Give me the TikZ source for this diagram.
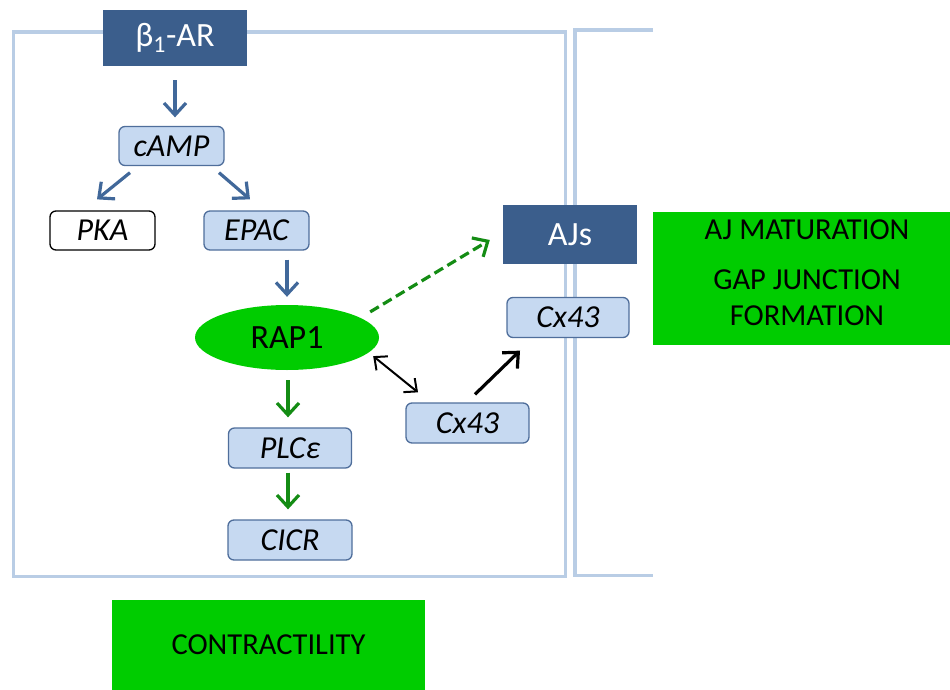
\documentclass[tikz,border=0pt]{standalone}
\usepackage{fontspec}
\setmainfont{Carlito}
\usetikzlibrary{arrows.meta,shapes.geometric}
\definecolor{dblue}{RGB}{59,94,140}
\definecolor{lblue}{RGB}{198,217,241}
\definecolor{bord}{RGB}{79,110,155}
\definecolor{frame}{RGB}{185,205,229}
\definecolor{bgreen}{RGB}{0,204,0}
\definecolor{agreen}{RGB}{20,140,20}
\definecolor{ablue}{RGB}{65,104,154}
\tikzset{
  lbox/.style={draw=bord,fill=lblue,rounded corners=6pt,line width=1.3pt,minimum width=105pt,minimum height=39pt,inner sep=0pt,font=\fontsize{32}{34}\selectfont\itshape},
  dbox/.style={fill=dblue,text=white,inner sep=0pt,font=\fontsize{34}{36}\selectfont},
  gbox/.style={fill=bgreen,inner sep=0pt,align=center},
  frm/.style={draw=frame,line width=3.5pt},
  tipb/.style={-{Straight Barb[length=12pt,width=22pt]}},
  barr/.style={tipb,draw=ablue,line width=3.2pt},
  garr/.style={tipb,draw=agreen,line width=3.2pt},
}
\begin{document}
\begin{tikzpicture}[x=1pt,y=-1pt]
\useasboundingbox (0,0) rectangle (950,690);
% frames
\draw[frm] (13.5,32) rectangle (565.5,576.5);
\draw[frm] (653,30) -- (575,30) -- (575,575.5) -- (653,575.5);
% nodes
\node[dbox,minimum width=144pt,minimum height=56pt] (b1) at (175,38) {β\textsubscript{1}-AR};
\node[lbox] (camp) at (171.5,146) {cAMP};
\node[lbox,draw=black,fill=white] (pka) at (102.5,230.5) {PKA};
\node[lbox] (epac) at (256.5,230.5) {EPAC};
\node[ellipse,fill=bgreen,minimum width=184pt,minimum height=65pt,inner sep=0pt,font=\fontsize{34}{36}\selectfont] (rap) at (287,337.5) {RAP1};
\node[lbox,minimum width=123pt,minimum height=40pt] (plc) at (290,448) {PLC\textit{ε}};
\node[lbox,minimum width=124pt,minimum height=40pt] (cicr) at (290,540) {CICR};
\node[lbox,minimum width=123pt,minimum height=40pt] (cxl) at (467.5,423) {Cx43};
\node[lbox,minimum width=122pt,minimum height=40pt] (cxu) at (568,317.5) {Cx43};
\node[dbox,minimum width=134pt,minimum height=59pt] (ajs) at (570,234.5) {AJs};
\node[gbox,minimum width=297pt,minimum height=133pt] (mat) at (801.5,278.5) {};
\node[font=\fontsize{30.5}{32}\selectfont] (t1) at (807,230) {AJ MATURATION};
\node[font=\fontsize{30.5}{36}\selectfont,align=center] (t2) at (807,298) {GAP JUNCTION\\FORMATION};
\node[gbox,minimum width=313pt,minimum height=90pt,font=\fontsize{30.5}{32}\selectfont] (con) at (268.5,645) {CONTRACTILITY};
% connectors
\draw[barr] ([yshift=-14pt]b1.south) -- ([xshift=3.5pt,yshift=8.5pt]camp.north);
\draw[barr] ([xshift=-41.5pt,yshift=-6.5pt]camp.south) -- ([xshift=-5.5pt,yshift=11pt]pka.north);
\draw[barr] ([xshift=47.5pt,yshift=-6.5pt]camp.south) -- ([xshift=-6.5pt,yshift=11pt]epac.north);
\draw[barr] ([xshift=30.5pt,yshift=-9pt]epac.south) -- ([yshift=8pt]rap.north);
\draw[tipb,draw=agreen,line width=3.2pt,dash pattern=on 10pt off 5pt] ([xshift=18pt,yshift=2.5pt]rap.north east) -- ([xshift=-13pt,yshift=-5.5pt]ajs.west);
\draw[{Straight Barb[length=10pt,width=18pt]}-{Straight Barb[length=10pt,width=18pt]},line width=2pt] ([xshift=21pt,yshift=4.5pt]rap.south east) -- ([xshift=-49.5pt,yshift=10pt]cxl.north);
\draw[tipb,line width=3.2pt] ([xshift=7.5pt,yshift=8pt]cxl.north) -- ([xshift=-48pt,yshift=-12.5pt]cxu.south);
\draw[garr] ([xshift=1pt,yshift=-10pt]rap.south) -- ([xshift=-2pt,yshift=10pt]plc.north);
\draw[garr] ([xshift=-2pt,yshift=-4pt]plc.south) -- ([xshift=-2pt,yshift=10pt]cicr.north);
\end{tikzpicture}
\end{document}
